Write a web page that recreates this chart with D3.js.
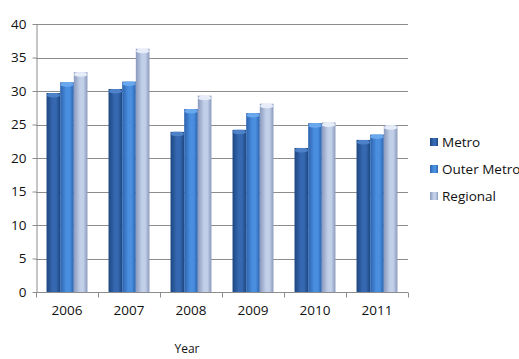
<!DOCTYPE html>
<meta charset="utf-8">
<style>
body { margin: 0; background: #fff; }
text { font-family: "Open Sans", "Liberation Sans", sans-serif; fill: #111; }
.grid line { stroke: #8c8c8c; stroke-width: 1; }
.axis path, .axis line { stroke: #8c8c8c; }
</style>
<svg width="519" height="359"></svg>
<script src="https://cdn.jsdelivr.net/npm/d3@7"></script>
<script>

var years = ["2006", "2007", "2008", "2009", "2010", "2011"];
var seriesNames = ["Metro", "Outer Metro", "Regional"];
var metro = [29.7, 30.3, 23.9, 24.2, 21.5, 22.7];
var outerMetro = [31.3, 31.4, 27.3, 26.7, 25.2, 23.5];
var regional = [32.8, 36.3, 29.3, 28.1, 25.3, 24.9];
var yTicks = [0, 5, 10, 15, 20, 25, 30, 35, 40];

// edge / mid / cap colours per series
var shades = [
  { edge: "#1d4680", mid: "#3568b0", cap: "#4d82c8" },
  { edge: "#2c63ad", mid: "#4a8ee0", cap: "#6aa8ee" },
  { edge: "#8a99bd", mid: "#c2cfe8", cap: "#e6edf8" }
];

var svg = d3.select("svg");
var margin = { left: 36, right: 111, top: 24, bottom: 67 };
var width = 519 - margin.left - margin.right,
    height = 359 - margin.top - margin.bottom;

var g = svg.append("g").attr("transform", "translate(" + margin.left + "," + margin.top + ")");

var x0 = d3.scaleBand().domain(years).range([0, width]).paddingInner(0.34).paddingOuter(0.17);
var x1 = d3.scaleBand().domain(seriesNames).range([0, x0.bandwidth()]);
var y = d3.scaleLinear().domain([0, 40]).range([height, 0]);

var defs = svg.append("defs");
shades.forEach(function(s, i) {
  var grad = defs.append("linearGradient").attr("id", "bar" + i)
      .attr("x1", "0%").attr("x2", "100%").attr("y1", "0%").attr("y2", "0%");
  grad.append("stop").attr("offset", "0%").attr("stop-color", s.edge);
  grad.append("stop").attr("offset", "45%").attr("stop-color", s.mid);
  grad.append("stop").attr("offset", "70%").attr("stop-color", s.mid);
  grad.append("stop").attr("offset", "100%").attr("stop-color", s.edge);
});

// gridlines
g.append("g").attr("class", "grid")
  .selectAll("line").data(yTicks.slice(1)).enter().append("line")
    .attr("x1", 0).attr("x2", width)
    .attr("y1", function(d) { return Math.round(y(d)) + 0.5; })
    .attr("y2", function(d) { return Math.round(y(d)) + 0.5; });

// y axis
var yAxis = g.append("g").attr("class", "axis")
  .attr("transform", "translate(0.5,0)")
  .call(d3.axisLeft(y).tickValues(yTicks).tickSize(4).tickSizeOuter(0).tickPadding(6));
yAxis.selectAll("text").style("font-size", "13.5px");

// x axis
var xAxis = g.append("g").attr("class", "axis")
  .attr("transform", "translate(0," + (Math.round(height) + 0.5) + ")")
  .call(d3.axisBottom(x0).tickSize(0).tickPadding(13));
xAxis.select(".domain").attr("d", "M0,0H" + width);
xAxis.selectAll("text").style("font-size", "13.5px");
xAxis.selectAll(".sep").data(d3.range(years.length + 1)).enter().append("line")
  .attr("class", "sep")
  .attr("x1", function(i) { return Math.round(i * width / years.length) + 0.5; })
  .attr("x2", function(i) { return Math.round(i * width / years.length) + 0.5; })
  .attr("y1", 0).attr("y2", 5);

var rows = years.map(function(yr, i) {
  return { year: yr, values: [metro[i], outerMetro[i], regional[i]] };
});

var groups = g.selectAll(".grp").data(rows).enter().append("g")
  .attr("class", "grp")
  .attr("transform", function(d) { return "translate(" + x0(d.year) + ",0)"; });

var bars = groups.selectAll(".bar").data(function(d) {
  return d.values.map(function(v, k) { return { k: k, v: v }; });
}).enter().append("g").attr("class", "bar");

bars.append("rect")
  .attr("x", function(d) { return x1(seriesNames[d.k]); })
  .attr("width", x1.bandwidth())
  .attr("y", function(d) { return y(d.v); })
  .attr("height", function(d) { return height - y(d.v); })
  .attr("fill", function(d) { return "url(#bar" + d.k + ")"; });

// top bevel cap
bars.append("path")
  .attr("d", function(d) {
    var bx = x1(seriesNames[d.k]), bw = x1.bandwidth(), by = y(d.v);
    return "M" + bx + "," + (by + 3) + "Q" + (bx + 1) + "," + by + " " + (bx + 3) + "," + by +
      "H" + (bx + bw - 3) + "Q" + (bx + bw - 1) + "," + by + " " + (bx + bw) + "," + (by + 3) +
      "Q" + (bx + bw / 2) + "," + (by + 6) + " " + bx + "," + (by + 3) + "Z";
  })
  .attr("fill", function(d) { return shades[d.k].cap; });

// legend
var legend = svg.append("g").attr("transform", "translate(430,0)");
var li = legend.selectAll("g").data(seriesNames).enter().append("g")
  .attr("transform", function(d, i) { return "translate(0," + (142 + i * 27) + ")"; });
li.append("rect").attr("x", 0).attr("y", -4).attr("width", 8).attr("height", 8)
  .attr("fill", function(d, i) { return "url(#bar" + i + ")"; });
li.append("text").attr("x", 12).attr("y", 0).attr("dy", "0.35em")
  .style("font-size", "13.5px").text(function(d) { return d; });

// axis title
svg.append("text").attr("x", 187).attr("y", 353).attr("text-anchor", "middle")
  .style("font-size", "12px").text("Year");

</script>
